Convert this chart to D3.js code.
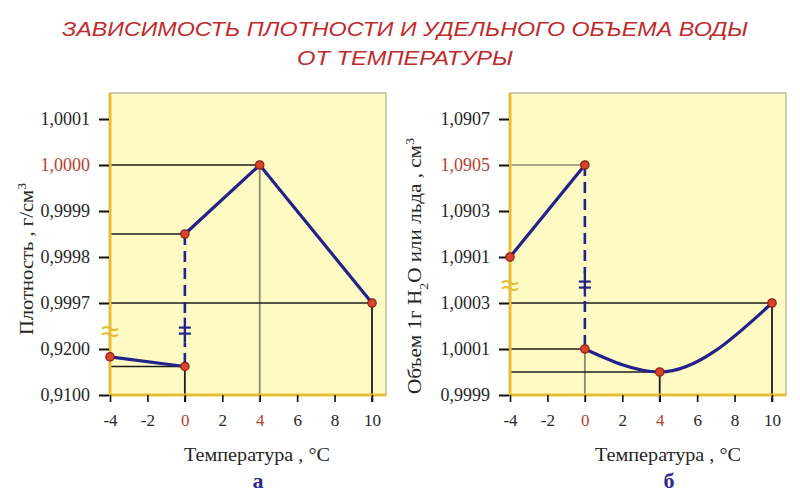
<!DOCTYPE html>
<html><head><meta charset="utf-8">
<script src="https://cdn.jsdelivr.net/npm/d3@7/dist/d3.min.js"></script>
<style>
html,body{margin:0;padding:0;background:#fff;}
svg{display:block;}
</style></head>
<body>
<svg id="chart" width="800" height="495"></svg>
<script>
// ---------- data ----------
const titleLines = ["ЗАВИСИМОСТЬ  ПЛОТНОСТИ  И  УДЕЛЬНОГО  ОБЪЕМА  ВОДЫ", "ОТ  ТЕМПЕРАТУРЫ"];
const xTicks = [-4, -2, 0, 2, 4, 6, 8, 10];
const xHighlight = [0, 4];
const xTitle = "Температура , °C";

// panel а : density
const densityTicks = [0.9100, 0.9200, 0.9997, 0.9998, 0.9999, 1.0000, 1.0001];
const densityHighlight = [1.0000];
const iceTemp = [-4, 0];
const iceDensity = [0.9183, 0.9162];
const waterTemp = [0, 4, 10];
const waterDensity = [0.99985, 1.0000, 0.9997];

// panel б : specific volume
const volumeTicks = [0.9999, 1.0001, 1.0003, 1.0901, 1.0903, 1.0905, 1.0907];
const volumeHighlight = [1.0905];
const iceVolume = [1.0901, 1.0905];
const waterVolume = [1.0001, 1.0000, 1.0003];

// ---------- drawing ----------
const svg = d3.select("#chart");
const SERIF = "'Liberation Serif', 'Times New Roman', serif";
const C = {
  title: "#bf2a2c", red: "#b8402f", fill: "#fdfac3", axisY: "#e6bd35",
  border: "#aeab95", line: "#22228a", dot: "#d8432c", dotStroke: "#8a2010",
  ref: "#1c1c1c", refGray: "#8d8c70", text: "#262626", letter: "#2b2b8c"
};

// title
svg.selectAll("text.title").data(titleLines).join("text")
  .attr("class", "title")
  .attr("x", 405).attr("y", (d, i) => 36 + i * 29)
  .attr("text-anchor", "middle")
  .style("font-family", "'Liberation Sans', Arial, sans-serif")
  .style("font-style", "italic")
  .style("font-size", "21px")
  .attr("fill", C.title)
  .attr("textLength", (d, i) => i === 0 ? 686 : 216)
  .attr("lengthAdjust", "spacingAndGlyphs")
  .text(d => d);

function panel(cfg) {
  const g = svg.append("g");
  const top = 93, bottom = 395, left = cfg.left, right = cfg.left + 276;
  const x = d3.scaleLinear().domain([-4, 10]).range([left, left + 262]);
  const yIdx = d3.scaleLinear().domain([0, 6]).range([bottom, 119]);
  const t = cfg.ticks;
  // broken axis: piecewise linear scale
  const y = d3.scaleLinear()
    .domain([t[0], t[cfg.breakAfter], t[cfg.breakAfter + 1], t[6]])
    .range([yIdx(0), yIdx(cfg.breakAfter), yIdx(cfg.breakAfter + 1), yIdx(6)]);
  const breakY = yIdx(cfg.breakAfter + cfg.breakFrac);

  // plot box
  g.append("rect").attr("x", left).attr("y", top)
    .attr("width", right - left).attr("height", bottom - top)
    .attr("fill", C.fill).attr("stroke", C.border).attr("stroke-width", 1.2);

  // reference lines
  cfg.points.forEach(p => {
    if (p.h) g.append("line").attr("x1", left).attr("x2", x(p.t))
      .attr("y1", y(p.v)).attr("y2", y(p.v))
      .attr("stroke", p.h === "gray" ? C.refGray : C.ref).attr("stroke-width", 1.6);
    if (p.vline) g.append("line").attr("x1", x(p.t)).attr("x2", x(p.t))
      .attr("y1", y(p.v)).attr("y2", bottom + 7)
      .attr("stroke", p.vline === "gray" ? C.refGray : C.ref).attr("stroke-width", 1.8);
  });

  // axis lines (yellow)
  g.append("line").attr("x1", left).attr("x2", left).attr("y1", top).attr("y2", bottom + 1)
    .attr("stroke", C.axisY).attr("stroke-width", 3);
  g.append("line").attr("x1", left).attr("x2", right).attr("y1", bottom).attr("y2", bottom)
    .attr("stroke", C.axisY).attr("stroke-width", 3);

  // y axis
  const ya = g.append("g").attr("transform", `translate(${left - 1},0)`)
    .attr("font-family", SERIF)
    .call(d3.axisLeft(y).tickValues(t).tickSize(10).tickPadding(9)
      .tickFormat(d => d.toFixed(4).replace(".", ",")));
  ya.attr("font-family", SERIF).attr("font-size", 18);
  ya.select(".domain").remove();
  ya.selectAll(".tick line").attr("stroke", "#111").attr("stroke-width", 2);
  ya.selectAll(".tick text")
    .style("font-family", SERIF)
    .style("font-size", "18px")
    .attr("fill", d => cfg.highlight.includes(d) ? C.red : C.text);

  // x axis
  const xa = g.append("g").attr("transform", `translate(0,${bottom})`)
    .call(d3.axisBottom(x).tickValues(xTicks).tickSize(7).tickPadding(12)
      .tickFormat(d3.format("d")));
  xa.attr("font-family", SERIF).attr("font-size", 17);
  xa.select(".domain").remove();
  xa.selectAll(".tick line").attr("stroke", "#111").attr("stroke-width", 1.6);
  xa.selectAll(".tick text")
    .style("font-family", SERIF)
    .style("font-size", "17px")
    .attr("fill", d => xHighlight.includes(d) ? C.red : C.text)
    .text(d => d < 0 ? "-" + Math.abs(d) : d);

  // dashed transition at 0 °C
  const yUp = y(cfg.dashFrom), yLo = y(cfg.dashTo);
  g.append("line").attr("x1", x(0)).attr("x2", x(0))
    .attr("y1", yUp).attr("y2", yLo)
    .attr("stroke", C.line).attr("stroke-width", 2.6).attr("stroke-dasharray", "11,6");
  // break marks
  g.append("rect").attr("x", x(0) - 7).attr("y", breakY - 12).attr("width", 14).attr("height", 24)
    .attr("fill", C.fill);
  g.append("line").attr("x1", x(0)).attr("x2", x(0)).attr("y1", breakY - 13).attr("y2", breakY + 12)
    .attr("stroke", C.line).attr("stroke-width", 2.4);
  [-3, 3].forEach(o => g.append("line")
    .attr("x1", x(0) - 6).attr("x2", x(0) + 6).attr("y1", breakY + o).attr("y2", breakY + o)
    .attr("stroke", C.line).attr("stroke-width", 2.2));
  [-3, 3].forEach(o => g.append("path")
    .attr("d", `M${left - 8},${breakY + o + 1} q4,-3 8,0 t8,0`)
    .attr("fill", "none").attr("stroke", C.axisY).attr("stroke-width", 2));

  // series lines
  const lineLin = d3.line().x(d => x(d.t)).y(d => y(d.v));
  g.append("path").datum(cfg.ice).attr("d", lineLin)
    .attr("fill", "none").attr("stroke", C.line).attr("stroke-width", 3.2);
  g.append("path").datum(cfg.water).attr("d", lineLin.curve(cfg.curve))
    .attr("fill", "none").attr("stroke", C.line).attr("stroke-width", 3.2);

  // points
  g.selectAll("circle").data(cfg.ice.concat(cfg.water)).join("circle")
    .attr("cx", d => x(d.t)).attr("cy", d => y(d.v)).attr("r", 4.2)
    .attr("fill", C.dot).attr("stroke", C.dotStroke).attr("stroke-width", 1.2);

  // x title & letter
  g.append("text").attr("x", cfg.xTitleX).attr("y", 461).attr("text-anchor", "middle")
    .style("font-family", SERIF).style("font-size", "18px")
    .attr("fill", C.text).attr("textLength", 146).attr("lengthAdjust", "spacingAndGlyphs")
    .text(xTitle);
  g.append("text").attr("x", cfg.xTitleX + 1).attr("y", 488).attr("text-anchor", "middle")
    .style("font-family", SERIF).style("font-size", "22px")
    .style("font-weight", "bold").attr("fill", C.letter).text(cfg.letter);

  // y title
  const yt = g.append("text")
    .attr("transform", `translate(${cfg.yTitleX},${cfg.yTitleY}) rotate(-90)`)
    .attr("text-anchor", "middle")
    .style("font-family", SERIF).style("font-size", "18px")
    .attr("fill", C.text)
    .attr("textLength", cfg.yTitleLen).attr("lengthAdjust", "spacingAndGlyphs");
  cfg.yTitle.forEach(s => {
    const ts = yt.append("tspan").text(s.t);
    if (s.sup) ts.attr("baseline-shift", "super").style("font-size", "12px");
    if (s.sub) ts.attr("baseline-shift", "sub").style("font-size", "12px");
  });
}

const zip = (ts, vs) => ts.map((t, i) => ({ t, v: vs[i] }));

panel({
  left: 110, ticks: densityTicks, highlight: densityHighlight, breakAfter: 1, breakFrac: 0.4,
  ice: zip(iceTemp, iceDensity), water: zip(waterTemp, waterDensity), curve: d3.curveLinear,
  dashFrom: waterDensity[0], dashTo: iceDensity[1],
  points: [
    { t: waterTemp[1], v: waterDensity[1], h: "black", vline: "gray" },
    { t: waterTemp[0], v: waterDensity[0], h: "black" },
    { t: waterTemp[2], v: waterDensity[2], h: "black", vline: "black" },
    { t: iceTemp[1], v: iceDensity[1], h: "black", vline: "black" }
  ],
  xTitleX: 257, letter: "а",
  yTitleX: 33, yTitleY: 259, yTitleLen: 152,
  yTitle: [{ t: "Плотность , г/см" }, { t: "3", sup: true }]
});

panel({
  left: 510, ticks: volumeTicks, highlight: volumeHighlight, breakAfter: 2, breakFrac: 0.4,
  ice: zip(iceTemp, iceVolume), water: zip(waterTemp, waterVolume), curve: d3.curveMonotoneX,
  dashFrom: iceVolume[1], dashTo: waterVolume[0],
  points: [
    { t: iceTemp[1], v: iceVolume[1], h: "gray" },
    { t: waterTemp[0], v: waterVolume[0], h: "black", vline: "gray" },
    { t: waterTemp[1], v: waterVolume[1], h: "black", vline: "black" },
    { t: waterTemp[2], v: waterVolume[2], h: "black", vline: "black" }
  ],
  xTitleX: 668, letter: "б",
  yTitleX: 421, yTitleY: 266, yTitleLen: 256,
  yTitle: [{ t: "Объем 1г H" }, { t: "2", sub: true }, { t: "O или льда , см" }, { t: "3", sup: true }]
});
</script>
</body></html>
